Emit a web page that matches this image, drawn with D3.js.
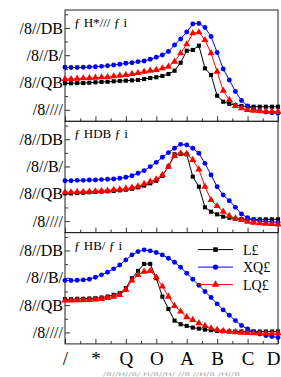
<!DOCTYPE html>
<html><head><meta charset="utf-8">
<script src="https://cdn.jsdelivr.net/npm/d3@7"></script>
<style>body{margin:0;background:#fff}svg{display:block}</style></head>
<body><svg id="c" width="281" height="377"></svg>
<script>
const xValues=[0,0.2,0.4,0.6,0.8,1,1.2,1.4,1.6,1.8,2,2.2,2.4,2.6,2.8,3,3.2,3.4,3.6,3.8,4,4.2,4.4,4.6,4.8,5,5.2,5.4,5.6,5.8,6,6.2,6.4,6.6,6.8,7];
const xTickValues=[0,1,2,3,4,5,6,7];
const xTickLabels=["/","*","Q","O","A","B","C","D"];
const yTickValues=[0,2.5,5,7.5];
const yTickLabels=["/8////","/8//QB","/8//B/","/8//DB"];
const panelTitles=["ƒ H*/// ƒ  i","ƒ HDB ƒ  i","ƒ HB/ ƒ  i"];
const seriesNames=["L£","XQ£","LQ£"];
const xAxisTitle="/8//H//8/ H/8//H/ //8 //H/8 /H//8";

// panel 1
const p1Black=[2.43,2.43,2.45,2.45,2.48,2.52,2.55,2.57,2.61,2.64,2.67,2.70,2.73,2.82,2.91,2.98,3.10,3.28,3.58,4.31,5.41,5.48,5.87,3.80,3.19,1.29,0.74,0.53,0.44,0.35,0.28,0.28,0.28,0.28,0.28,0.28];
const p1Blue=[3.89,3.87,3.87,3.89,3.92,3.95,3.98,4.04,4.10,4.17,4.26,4.31,4.41,4.47,4.63,4.81,5.02,5.34,5.94,6.49,7.13,7.86,7.91,7.54,6.71,5.25,3.74,2.73,1.68,0.85,0.35,0.05,-0.11,-0.20,-0.27,-0.32];
const p1Red=[2.82,2.82,2.85,2.89,2.91,2.94,2.98,3.00,3.07,3.12,3.19,3.28,3.37,3.49,3.58,3.65,3.80,3.95,4.41,5.18,6.00,7.01,7.10,6.39,5.18,3.49,1.75,0.90,0.35,0.14,-0.02,-0.08,-0.11,-0.14,-0.17,-0.17];
// panel 2
const p2Black=[2.54,2.54,2.57,2.60,2.64,2.67,2.70,2.73,2.76,2.82,2.88,2.97,3.09,3.25,3.46,3.70,4.13,4.99,6.12,6.15,6.12,4.07,3.15,1.26,0.86,0.62,0.41,0.31,0.22,0.19,0.16,0.16,0.16,0.16,0.16,0.16];
const p2Blue=[3.70,3.70,3.73,3.73,3.76,3.76,3.80,3.83,3.86,3.92,4.01,4.16,4.38,4.62,4.99,5.38,5.84,6.27,6.67,7.03,6.97,6.67,6.21,5.29,4.22,3.15,2.39,1.87,1.26,0.65,0.31,0.10,0.01,-0.05,-0.08,-0.11];
const p2Red=[2.64,2.64,2.67,2.67,2.70,2.73,2.76,2.79,2.85,2.91,2.97,3.06,3.18,3.40,3.61,3.83,4.22,4.99,5.96,6.21,6.15,5.60,4.74,3.15,1.93,1.38,0.86,0.47,0.25,0.10,-0.05,-0.14,-0.20,-0.24,-0.27,-0.30];
// panel 3
const p3Black=[3.04,3.04,3.07,3.07,3.10,3.13,3.19,3.28,3.44,3.59,4.05,4.96,5.63,6.27,6.27,4.96,3.28,2.15,1.08,0.75,0.60,0.44,0.35,0.26,0.20,0.14,0.11,0.08,0.08,0.08,0.08,0.08,0.08,0.08,0.08,0.08];
const p3Blue=[4.75,4.75,4.78,4.81,4.87,5.05,5.27,5.51,5.82,6.18,6.64,7.10,7.40,7.56,7.47,7.31,7.10,6.79,6.43,5.97,5.42,4.87,4.32,3.74,3.19,2.61,2.06,1.57,1.08,0.63,0.32,0.08,-0.14,-0.29,-0.38,-0.47];
const p3Red=[2.92,2.92,2.95,2.95,2.98,3.01,3.07,3.16,3.28,3.44,3.89,4.75,5.27,5.57,5.63,5.05,4.20,3.28,2.43,1.91,1.39,1.15,0.84,0.60,0.38,0.23,0.14,0.08,0.02,-0.02,-0.05,-0.08,-0.08,-0.08,-0.08,-0.08];

const panels=[[p1Black,p1Blue,p1Red],[p2Black,p2Blue,p2Red],[p3Black,p3Blue,p3Red]];
const colors=["#000000","#0000ff","#ff0000"];
const symbols=[d3.symbolSquare,d3.symbolCircle,d3.symbolTriangle];
const symSizes=[17,19,22];

const svg=d3.select("#c");
const L=65,R=278,T0=10,PH=111.3;
const x=d3.scaleLinear().domain([0,7]).range([L,R]);
const minorX=d3.range(0.5,7,1);
const minorY=[1.25,3.75,6.25,8.75];

panels.forEach((series,p)=>{
  const top=T0+p*PH, bot=top+PH;
  const y=d3.scaleLinear().domain([-1.053,9.14]).range([bot,top]);
  const g=svg.append("g");
  const ya=g.append("g").attr("transform",`translate(${L},0)`)
    .call(d3.axisLeft(y).tickValues(yTickValues).tickSize(-5).tickPadding(2).tickFormat((d,i)=>yTickLabels[i]));
  ya.select(".domain").remove();
  ya.selectAll("text").attr("font-family","Liberation Serif").attr("font-size",16).attr("fill","#000");
  const ym=g.append("g").attr("transform",`translate(${L},0)`)
    .call(d3.axisLeft(y).tickValues(minorY).tickSize(-3).tickFormat(""));
  ym.select(".domain").remove();
  const xa=g.append("g").attr("transform",`translate(0,${bot})`)
    .call(d3.axisBottom(x).tickValues(xTickValues).tickSize(-5).tickPadding(8).tickFormat((d,i)=>p===2?xTickLabels[i]:""));
  xa.select(".domain").remove();
  xa.selectAll("text").attr("font-family","Liberation Serif").attr("font-size",19).attr("fill","#000");
  xa.selectAll("text").filter((d,i)=>i===xTickValues.length-1).attr("text-anchor","end").attr("dx",2);
  const xm=g.append("g").attr("transform",`translate(0,${bot})`)
    .call(d3.axisBottom(x).tickValues(minorX).tickSize(-3).tickFormat(""));
  xm.select(".domain").remove();
  g.selectAll(".tick line").attr("stroke","#000").attr("stroke-width",0.8);
  g.append("rect").attr("x",L).attr("y",top).attr("width",R-L).attr("height",PH)
    .attr("fill","none").attr("stroke","#222").attr("stroke-width",1);
  g.append("text").attr("x",74).attr("y",top+17).attr("font-family","Liberation Serif")
    .attr("font-size",13).attr("fill","#000").text(panelTitles[p]);
  series.forEach((vals,s)=>{
    const pts=vals.map((v,i)=>[xValues[i],v]);
    g.append("path").datum(pts).attr("fill","none").attr("stroke",colors[s]).attr("stroke-width",1)
      .attr("d",d3.line().x(d=>x(d[0])).y(d=>y(d[1])));
    g.selectAll(null).data(pts).enter().append("path")
      .attr("transform",d=>`translate(${x(d[0])},${y(d[1])})`)
      .attr("d",d3.symbol().type(symbols[s]).size(symSizes[s]))
      .attr("fill",colors[s]);
  });
  if(p===2){
    const lg=g.append("g");
    seriesNames.forEach((n,s)=>{
      const ly=top+17+s*17.5;
      lg.append("line").attr("x1",198).attr("x2",233).attr("y1",ly).attr("y2",ly).attr("stroke",colors[s]).attr("stroke-width",1);
      lg.append("path").attr("transform",`translate(215.5,${ly})`)
        .attr("d",d3.symbol().type(symbols[s]).size(symSizes[s]+4)).attr("fill",colors[s]);
      lg.append("text").attr("x",243).attr("y",ly+5).attr("font-family","Liberation Serif")
        .attr("font-size",14).attr("fill","#000").text(n);
    });
  }
});
svg.append("text").attr("x",103).attr("y",376).attr("textLength",137).attr("lengthAdjust","spacingAndGlyphs")
  .attr("font-family","DejaVu Sans").attr("font-size",5).attr("fill","#aaa").text(xAxisTitle);
</script></body></html>
